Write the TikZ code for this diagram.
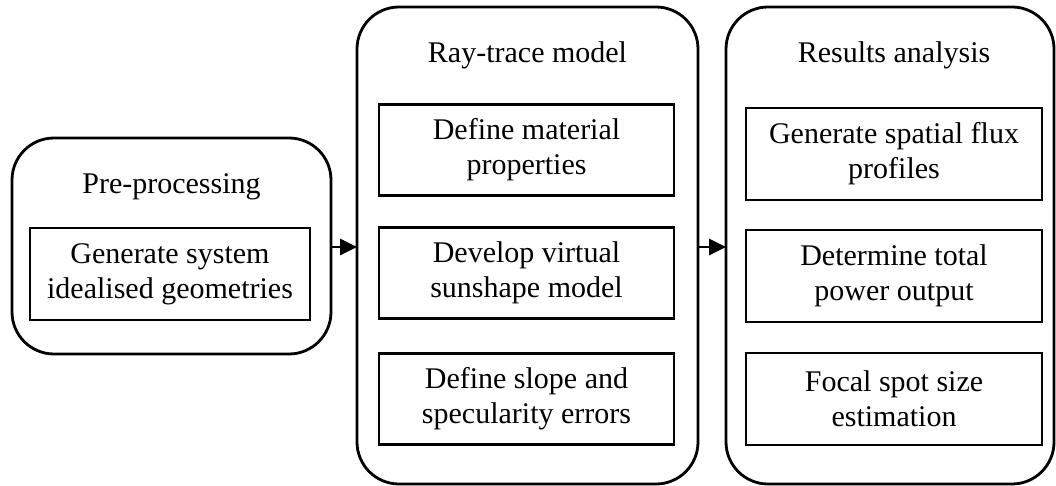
\documentclass[tikz,border=0pt]{standalone}
\usepackage{fontspec}
\setmainfont{Liberation Serif}
\usetikzlibrary{arrows.meta}
\begin{document}
\begin{tikzpicture}[x=1pt,y=-1pt,
  stage/.style={draw=black,line width=2.8pt,rounded corners=42pt},
  task/.style={draw=black,line width=2.8pt,align=center,inner sep=0pt,
    font=\fontsize{30}{35}\selectfont},
  title/.style={font=\fontsize{30}{35}\selectfont},
  flow/.style={line width=2.8pt,-{Triangle[length=17pt,width=16pt]}}]
\useasboundingbox (0,0) rectangle (1056,486);
% stage frames
\draw[stage] (12,138) rectangle (331,354);
\draw[stage] (357,7) rectangle (698,484);
\draw[stage] (726,7) rectangle (1054,484);
\coordinate (preR) at (331,247);
\coordinate (rayL) at (357,247);
\coordinate (rayR) at (698,247);
\coordinate (resL) at (726,247);
% stage titles
\node[title] (t1) at (171.5,187) {Pre-processing};
\node[title] (t2) at (527.5,55) {Ray-trace model};
\node[title] (t3) at (894,55) {Results analysis};
% tasks
\node[task,minimum width=280pt,minimum height=92pt] (g1) at (170,274) {Generate system\\idealised geometries};
\node[task,minimum width=295pt,minimum height=91pt] (r1) at (526.5,150) {Define material\\properties};
\node[task,minimum width=295pt,minimum height=91pt] (r2) at (526.5,273) {Develop virtual\\sunshape model};
\node[task,minimum width=295pt,minimum height=91pt] (r3) at (526.5,399) {Define slope and\\specularity errors};
\node[task,minimum width=296pt,minimum height=92pt] (a1) at (894,154) {Generate spatial flux\\profiles};
\node[task,minimum width=296pt,minimum height=92pt] (a2) at (894,276) {Determine total\\power output};
\node[task,minimum width=296pt,minimum height=92pt] (a3) at (894,399) {Focal spot size\\estimation};
% flow between stages
\draw[flow] (preR) -- (rayL);
\draw[flow] (rayR) -- (resL);
\end{tikzpicture}
\end{document}
